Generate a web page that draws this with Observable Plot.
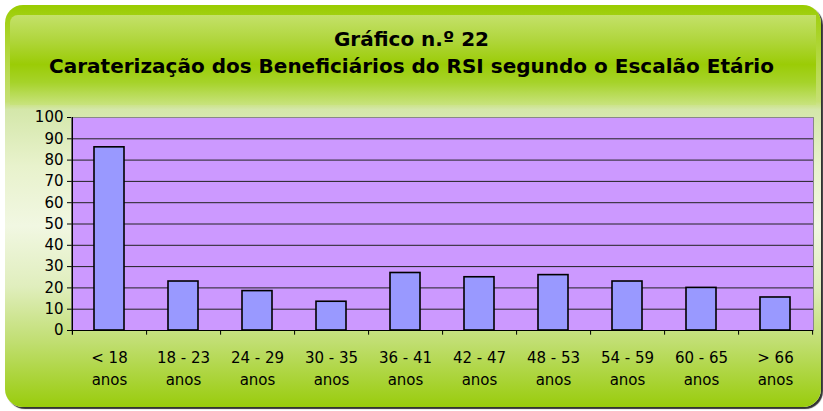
<!DOCTYPE html>
<html>
<head>
<meta charset="utf-8">
<script src="https://cdn.jsdelivr.net/npm/d3@7"></script>
<script src="https://cdn.jsdelivr.net/npm/@observablehq/plot@0.6"></script>
<style>
  html, body { margin: 0; padding: 0; background: #ffffff; }
  #wrap { position: relative; width: 823px; height: 411px; overflow: hidden; background: #ffffff; }
  #box {
    position: absolute; left: 5px; top: 5px; width: 816px; height: 402px;
    border-radius: 18px;
    background: linear-gradient(to bottom, #99cc00 0%, #a2d014 3%, #c6e074 24%, #d4e7aa 26%, #e8f2cc 40%, #f1f7e2 55%, #e0eebd 70%, #c0de70 84%, #99cc0c 100%);
    box-shadow: 2px 2px 1px #333;
  }
  #titlebox {
    position: absolute; left: 10px; top: 15px; width: 806px; height: 90px;
    border-top-left-radius: 8px;
    background: linear-gradient(to bottom, #c4e16a 0%, #b0d63c 28%, #9bcc06 55%, #a6d32a 75%, #c8e37e 100%);
  }
  #title {
    position: absolute; left: 0; top: 26px; width: 823px; text-align: center;
    font-family: "DejaVu Sans", sans-serif; font-weight: bold; font-size: 20px; line-height: 27px; color: #000;
  }
  #chart { position: absolute; left: 0; top: 100px; }
</style>
</head>
<body>
<div id="wrap">
  <div id="box"></div>
  <div id="titlebox"></div>
  <div id="title">Gráfico n.º 22<br>Caraterização dos Beneficiários do RSI segundo o Escalão Etário</div>
  <div id="chart"></div>
</div>
<script>
const ageGroups = ["< 18", "18 - 23", "24 - 29", "30 - 35", "36 - 41", "42 - 47", "48 - 53", "54 - 59", "60 - 65", "> 66"];
const unitLabel = "anos";
const beneficiaries = [86, 23, 18.5, 13.5, 27, 25, 26, 23, 20, 15.5];
const yTicks = [0, 10, 20, 30, 40, 50, 60, 70, 80, 90, 100];

const data = ageGroups.map((g, i) => ({group: g, value: beneficiaries[i]}));

const W = 823, H = 300;
const mL = 71, mR = 10, mT = 17, mB = 70;
const half = (W - mL - mR) / ageGroups.length / 2;

const chart = Plot.plot({
  width: W,
  height: H,
  marginLeft: mL,
  marginRight: mR,
  marginTop: mT,
  marginBottom: mB,
  style: {background: "transparent", fontFamily: "DejaVu Sans, sans-serif", color: "#000", overflow: "visible"},
  x: {domain: ageGroups, paddingInner: 0.59, paddingOuter: 0.295, label: null},
  y: {domain: [0, 100], label: null},
  marks: [
    Plot.frame({fill: "#cc99ff", stroke: "#888888"}),
    Plot.ruleY(yTicks.filter(d => d > 0 && d < 100), {stroke: "#222", strokeWidth: 1}),
    Plot.barY(data, {x: "group", y: "value", fill: "#9999ff", stroke: "#000", strokeWidth: 1.6}),
    Plot.ruleY([0], {stroke: "#000", strokeWidth: 1.2}),
    Plot.ruleX([ageGroups[0]], {dx: -half, y1: -2.2, y2: 100, stroke: "#000", strokeWidth: 1.2}),
    Plot.ruleX(ageGroups, {dx: half, y1: 0, y2: -2.2, stroke: "#000", strokeWidth: 1}),
    Plot.axisY({ticks: yTicks, tickSize: 4, tickPadding: 4, fontSize: 15, tickFormat: d => String(d), label: null}),
    Plot.axisX({tickSize: 0, tickPadding: 17, fontSize: 15, lineHeight: 1.45, tickFormat: d => d + "\n" + unitLabel, label: null})
  ]
});
document.getElementById("chart").appendChild(chart);
</script>
</body>
</html>
